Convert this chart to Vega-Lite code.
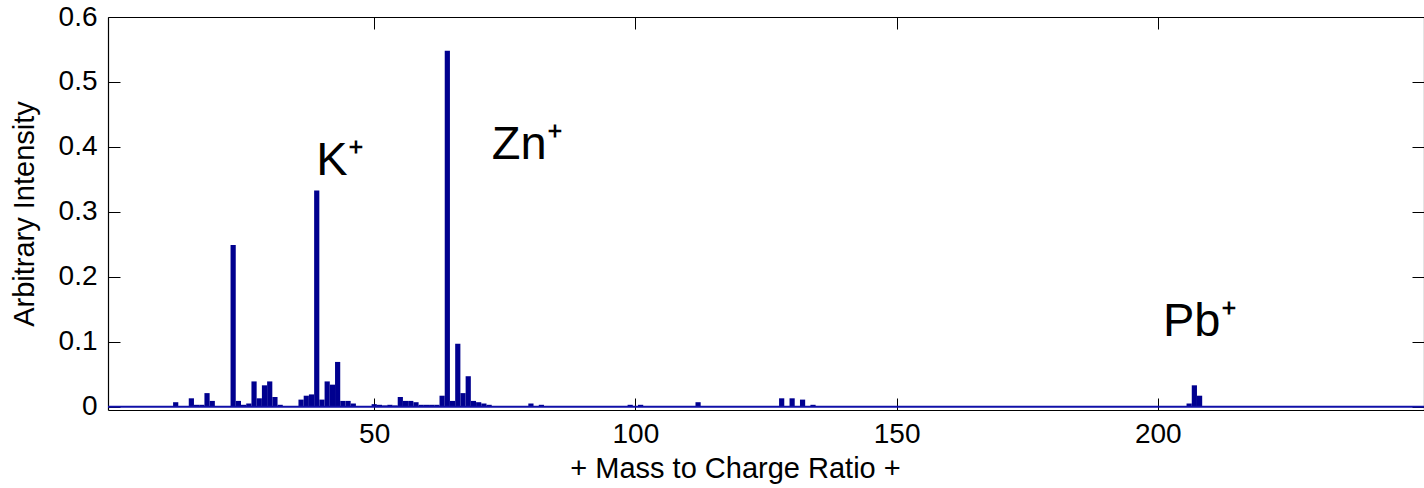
{
  "$schema": "https://vega.github.io/schema/vega-lite/v6.json",
  "width": 1316,
  "height": 393,
  "autosize": {"type": "none"},
  "padding": {"left": 108, "top": 17, "right": 0, "bottom": 78},
  "background": "white",
  "config": {
    "view": {"stroke": null},
    "font": "Liberation Sans",
    "axis": {"grid": false, "domainColor": "black", "domainWidth": 1.2, "tickColor": "black", "tickWidth": 1, "labelColor": "black", "titleColor": "black", "labelFontSize": 28, "titleFontSize": 29, "titleFontWeight": "normal", "labelFont": "Liberation Sans", "titleFont": "Liberation Sans"}
  },
  "layer": [
    {
      "data": {"values": [
        {"mz": 12, "intensity": 0.007}, {"mz": 15, "intensity": 0.013}, {"mz": 16, "intensity": 0.003}, {"mz": 17, "intensity": 0.003},
        {"mz": 18, "intensity": 0.021}, {"mz": 19, "intensity": 0.009}, {"mz": 23, "intensity": 0.249}, {"mz": 24, "intensity": 0.009},
        {"mz": 25, "intensity": 0.003}, {"mz": 26, "intensity": 0.005}, {"mz": 27, "intensity": 0.039}, {"mz": 28, "intensity": 0.013},
        {"mz": 29, "intensity": 0.033}, {"mz": 30, "intensity": 0.039}, {"mz": 31, "intensity": 0.015}, {"mz": 32, "intensity": 0.003},
        {"mz": 36, "intensity": 0.011}, {"mz": 37, "intensity": 0.017}, {"mz": 38, "intensity": 0.019}, {"mz": 39, "intensity": 0.333},
        {"mz": 40, "intensity": 0.011}, {"mz": 41, "intensity": 0.039}, {"mz": 42, "intensity": 0.034}, {"mz": 43, "intensity": 0.069},
        {"mz": 44, "intensity": 0.009}, {"mz": 45, "intensity": 0.009}, {"mz": 46, "intensity": 0.005}, {"mz": 50, "intensity": 0.004},
        {"mz": 51, "intensity": 0.003}, {"mz": 52, "intensity": 0.002}, {"mz": 53, "intensity": 0.003}, {"mz": 54, "intensity": 0.002},
        {"mz": 55, "intensity": 0.015}, {"mz": 56, "intensity": 0.009}, {"mz": 57, "intensity": 0.009}, {"mz": 58, "intensity": 0.007},
        {"mz": 59, "intensity": 0.003}, {"mz": 60, "intensity": 0.003}, {"mz": 61, "intensity": 0.003}, {"mz": 62, "intensity": 0.003},
        {"mz": 63, "intensity": 0.017}, {"mz": 64, "intensity": 0.548}, {"mz": 65, "intensity": 0.009}, {"mz": 66, "intensity": 0.097},
        {"mz": 67, "intensity": 0.021}, {"mz": 68, "intensity": 0.047}, {"mz": 69, "intensity": 0.009}, {"mz": 70, "intensity": 0.007},
        {"mz": 71, "intensity": 0.005}, {"mz": 72, "intensity": 0.003}, {"mz": 80, "intensity": 0.005}, {"mz": 82, "intensity": 0.003},
        {"mz": 99, "intensity": 0.003}, {"mz": 101, "intensity": 0.003}, {"mz": 112, "intensity": 0.007}, {"mz": 128, "intensity": 0.013},
        {"mz": 130, "intensity": 0.013}, {"mz": 132, "intensity": 0.011}, {"mz": 134, "intensity": 0.003}, {"mz": 206, "intensity": 0.005},
        {"mz": 207, "intensity": 0.033}, {"mz": 208, "intensity": 0.017}
      ]},
      "mark": {"type": "bar", "size": 5.2, "color": "#00008F", "orient": "vertical"},
      "encoding": {
        "x": {"field": "mz", "type": "quantitative", "scale": {"domain": [0, 250], "nice": false, "zero": false},
              "axis": {"orient": "bottom", "values": [50, 100, 150, 200], "tickSize": -12, "labelPadding": 22, "title": "+ Mass to Charge Ratio +", "titlePadding": 6, "titleX": 627}},
        "y": {"field": "intensity", "type": "quantitative", "scale": {"domain": [-0.005, 0.6], "nice": false, "zero": false},
              "axis": {"orient": "left", "values": [0, 0.1, 0.2, 0.3, 0.4, 0.5, 0.6], "format": ".1~f", "tickSize": -12, "labelPadding": 23, "title": "Arbitrary Intensity", "titlePadding": 19}}
      }
    },
    {
      "data": {"values": [{"base": 0}]},
      "mark": {"type": "rule", "color": "#1010A8", "strokeWidth": 2},
      "encoding": {"y": {"field": "base", "type": "quantitative", "axis": null}}
    },
    {
      "data": {"values": [
        {"label": "K⁺", "mz": 38.9, "v": 0.356},
        {"label": "Zn⁺", "mz": 72.5, "v": 0.381},
        {"label": "Pb⁺", "mz": 201.0, "v": 0.109}
      ]},
      "mark": {"type": "text", "align": "left", "baseline": "alphabetic", "fontSize": 47, "color": "black", "font": "Liberation Sans"},
      "encoding": {
        "x": {"field": "mz", "type": "quantitative", "axis": {"orient": "top", "values": [50, 100, 150, 200], "tickSize": -12, "labels": false, "title": null}},
        "y": {"field": "v", "type": "quantitative", "axis": {"orient": "right", "values": [0, 0.1, 0.2, 0.3, 0.4, 0.5, 0.6], "tickSize": -12, "labels": false, "title": null}},
        "text": {"field": "label"}
      }
    }
  ],
  "resolve": {"axis": {"x": "independent", "y": "independent"}}
}
